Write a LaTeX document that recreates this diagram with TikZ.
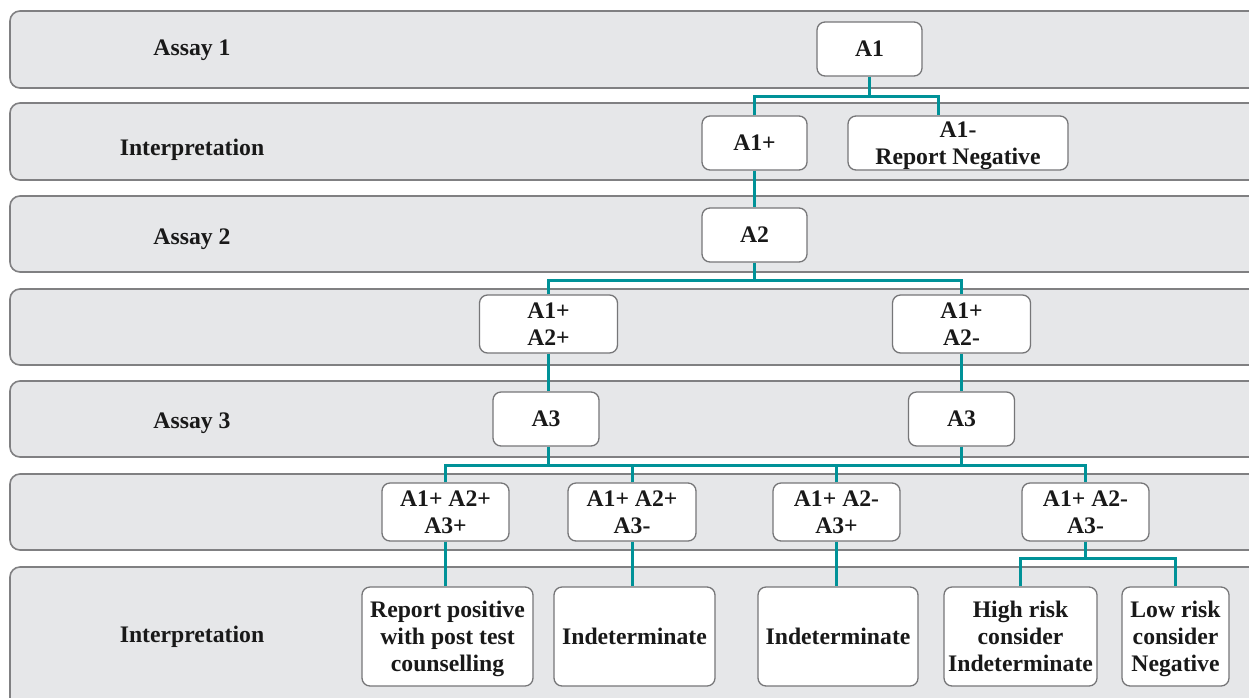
\documentclass[tikz,border=0pt]{standalone}
\usepackage{fontspec}
\setmainfont{Liberation Serif}
\definecolor{bandfill}{RGB}{230,231,233}
\definecolor{bandline}{RGB}{128,128,130}
\definecolor{boxline}{RGB}{118,118,120}
\definecolor{linkteal}{RGB}{0,146,152}
\begin{document}
\begin{tikzpicture}[x=1pt, y=-1pt,
    band/.style={draw=bandline, fill=bandfill, line width=1.6pt, rounded corners=10pt},
    bandtext/.style={font=\fontsize{23.7}{27}\selectfont\bfseries, text=black!90, yshift=-3pt},
    box/.style={draw=boxline, fill=white, line width=1.3pt, rounded corners=8pt,
      align=center, inner sep=1pt, text=black!90, text depth=-10pt,
      font=\fontsize{23.7}{27}\selectfont\bfseries},
    link/.style={draw=linkteal, line width=3pt}]
  \useasboundingbox (0,0) rectangle (1249,697);
  \clip (0,0) rectangle (1249,697);
  % bands
  \draw[band] (10,11) rectangle (1275,88);
  \draw[band] (10,103) rectangle (1275,180);
  \draw[band] (10,196) rectangle (1275,272);
  \draw[band] (10,289) rectangle (1275,365);
  \draw[band] (10,381) rectangle (1275,457);
  \draw[band] (10,474) rectangle (1275,550);
  \draw[band] (10,567) rectangle (1275,730);
  \node[bandtext] (t1) at (192,47) {Assay 1};
  \node[bandtext] (t2) at (192,147) {Interpretation};
  \node[bandtext] (t3) at (192,236) {Assay 2};
  \node[bandtext] (t5) at (192,420) {Assay 3};
  \node[bandtext] (t7) at (192,634) {Interpretation};
  % assay boxes
  \node[box, minimum width=105, minimum height=54] (a1) at (869.5,49) {A1};
  \node[box, minimum width=105, minimum height=54] (a1p) at (754.5,143) {A1+};
  \node[box, minimum width=220, minimum height=54] (a1n) at (958,143) {A1-\\Report Negative};
  \node[box, minimum width=105, minimum height=54] (a2) at (754.5,235) {A2};
  \node[box, minimum width=138, minimum height=58] (p2) at (548.5,324) {A1+\\A2+};
  \node[box, minimum width=138, minimum height=58] (n2) at (961.5,324) {A1+\\A2-};
  \node[box, minimum width=106, minimum height=54] (a3l) at (546,419) {A3};
  \node[box, minimum width=106, minimum height=54] (a3r) at (961.5,419) {A3};
  \node[box, minimum width=127, minimum height=58] (r1) at (445.5,512) {A1+ A2+\\A3+};
  \node[box, minimum width=128, minimum height=58] (r2) at (632,512) {A1+ A2+\\A3-};
  \node[box, minimum width=127, minimum height=58] (r3) at (836.5,512) {A1+ A2-\\A3+};
  \node[box, minimum width=127, minimum height=58] (r4) at (1085.5,512) {A1+ A2-\\A3-};
  % outcomes
  \node[box, minimum width=171, minimum height=99] (o1) at (447.5,636.5) {Report positive\\with post test\\counselling};
  \node[box, minimum width=161, minimum height=99] (o2) at (634.5,636.5) {Indeterminate};
  \node[box, minimum width=160, minimum height=99] (o3) at (838,636.5) {Indeterminate};
  \node[box, minimum width=153, minimum height=99] (o4) at (1020.5,636.5) {High risk\\consider\\Indeterminate};
  \node[box, minimum width=107, minimum height=99] (o5) at (1175.5,636.5) {Low risk\\consider\\Negative};
  % connectors
  \coordinate (j1) at (869.5,96);
  \coordinate (j2) at (754.5,280);
  \coordinate (j3) at (548.5,465);
  \coordinate (j4) at (1085.5,558);
  \draw[link] (a1.south) -- (j1);
  \draw[link] (a1p.north) |- (j1) -| ([xshift=-20pt]a1n.north);
  \draw[link] (a1p) -- (a2);
  \draw[link] (a2.south) -- (j2);
  \draw[link] (p2.north) |- (j2) -| (n2.north);
  \draw[link] (p2.south) -- (p2.south |- a3l.north);
  \draw[link] (n2) -- (a3r);
  \draw[link] (p2.south |- a3l.south) -- (j3);
  \draw[link] (a3r.south) -- (a3r.south |- j3);
  \draw[link] (r1.north) |- (j3) -| (r4.north);
  \draw[link] (r2.north) -- (r2.north |- j3);
  \draw[link] (r3.north) -- (r3.north |- j3);
  \draw[link] (r1.south) -- (r1.south |- o1.north);
  \draw[link] (r2.south) -- (r2.south |- o2.north);
  \draw[link] (r3.south) -- (r3.south |- o3.north);
  \draw[link] (r4.south) -- (j4);
  \draw[link] (o4.north) |- (j4) -| (o5.north);
\end{tikzpicture}
\end{document}
